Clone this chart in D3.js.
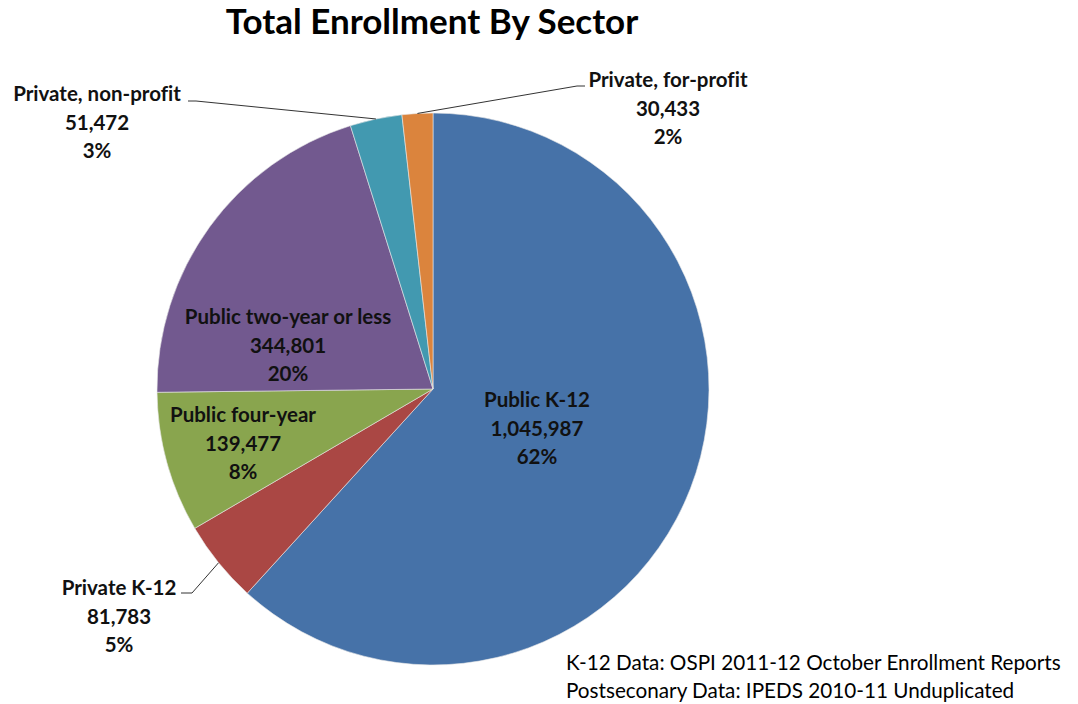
<!DOCTYPE html>
<html><head><meta charset="utf-8">
<script src="https://cdn.jsdelivr.net/npm/d3@7"></script>
<style>
html,body{margin:0;padding:0;background:#fff;}
svg{display:block;font-family:Lato,"Open Sans",sans-serif;font-variant-ligatures:none;font-feature-settings:"liga" 0;}
</style></head>
<body><svg id="c" width="1078" height="704"></svg>
<script>
// ---- data ----
const categories = ["Public K-12","Private K-12","Public four-year","Public two-year or less","Private, non-profit","Private, for-profit"];
const enrollment = [1045987, 81783, 139477, 344801, 51472, 30433];
const colors = ["#4672A8","#AA4744","#89A54E","#72598F","#4299B0","#DB843D"];
const title = "Total Enrollment By Sector";
const notes = ["K-12 Data: OSPI 2011-12 October Enrollment Reports","Postseconary Data: IPEDS 2010-11 Unduplicated"];

// ---- layout (not data) ----
const cx = 433, cy = 389, R = 276;
const labelLayout = [
  {x:537, y:407},
  {x:119, y:595, leader:{from:[181,593],elbow:[192,593]}},
  {x:243, y:422},
  {x:288, y:324},
  {x:97,  y:101, leader:{from:[188,101],elbow:[196,101]}},
  {x:668, y:87,  leader:{from:[585,86],elbow:[577,86]}}
];

const svg = d3.select("#c");
const total = d3.sum(enrollment);
const data = categories.map((c,i)=>({name:c, value:enrollment[i], i}));
const pie = d3.pie().value(d=>d.value).sort(null).startAngle(0).endAngle(2*Math.PI);
const arcs = pie(data);
const arc = d3.arc().innerRadius(0).outerRadius(R);

const g = svg.append("g").attr("transform",`translate(${cx},${cy})`);
g.selectAll("path").data(arcs).join("path")
  .attr("d",arc)
  .attr("fill",d=>colors[d.data.i])
  .attr("stroke","#e8e8e8").attr("stroke-width",0.6);

svg.append("text").attr("x",432).attr("y",34)
  .attr("text-anchor","middle").attr("font-weight",700).attr("font-size",35)
  .attr("fill","#000").text(title);

const fmt = d3.format(",");
const pct = d3.format(".0%");
arcs.forEach((a,k)=>{
  const L = labelLayout[k];
  const lines = [a.data.name, fmt(a.data.value), pct(a.data.value/total)];
  const t = svg.append("text").attr("text-anchor","middle")
    .attr("font-weight",700).attr("font-size",20.5).attr("fill","#111");
  lines.forEach((s,j)=>t.append("tspan").attr("x",L.x).attr("y",L.y+j*28.5).text(s));
  if(L.leader){
    const mid = (a.startAngle+a.endAngle)/2;
    const px = cx + R*Math.sin(mid), py = cy - R*Math.cos(mid);
    svg.append("path")
      .attr("d",`M${L.leader.from[0]},${L.leader.from[1]}L${L.leader.elbow[0]},${L.leader.elbow[1]}L${px},${py}`)
      .attr("fill","none").attr("stroke","#333").attr("stroke-width",1);
  }
});

notes.forEach((s,j)=>svg.append("text").attr("x",566).attr("y",670+j*27.5)
  .attr("font-size",20.7).attr("fill","#000").text(s));
</script></body></html>
